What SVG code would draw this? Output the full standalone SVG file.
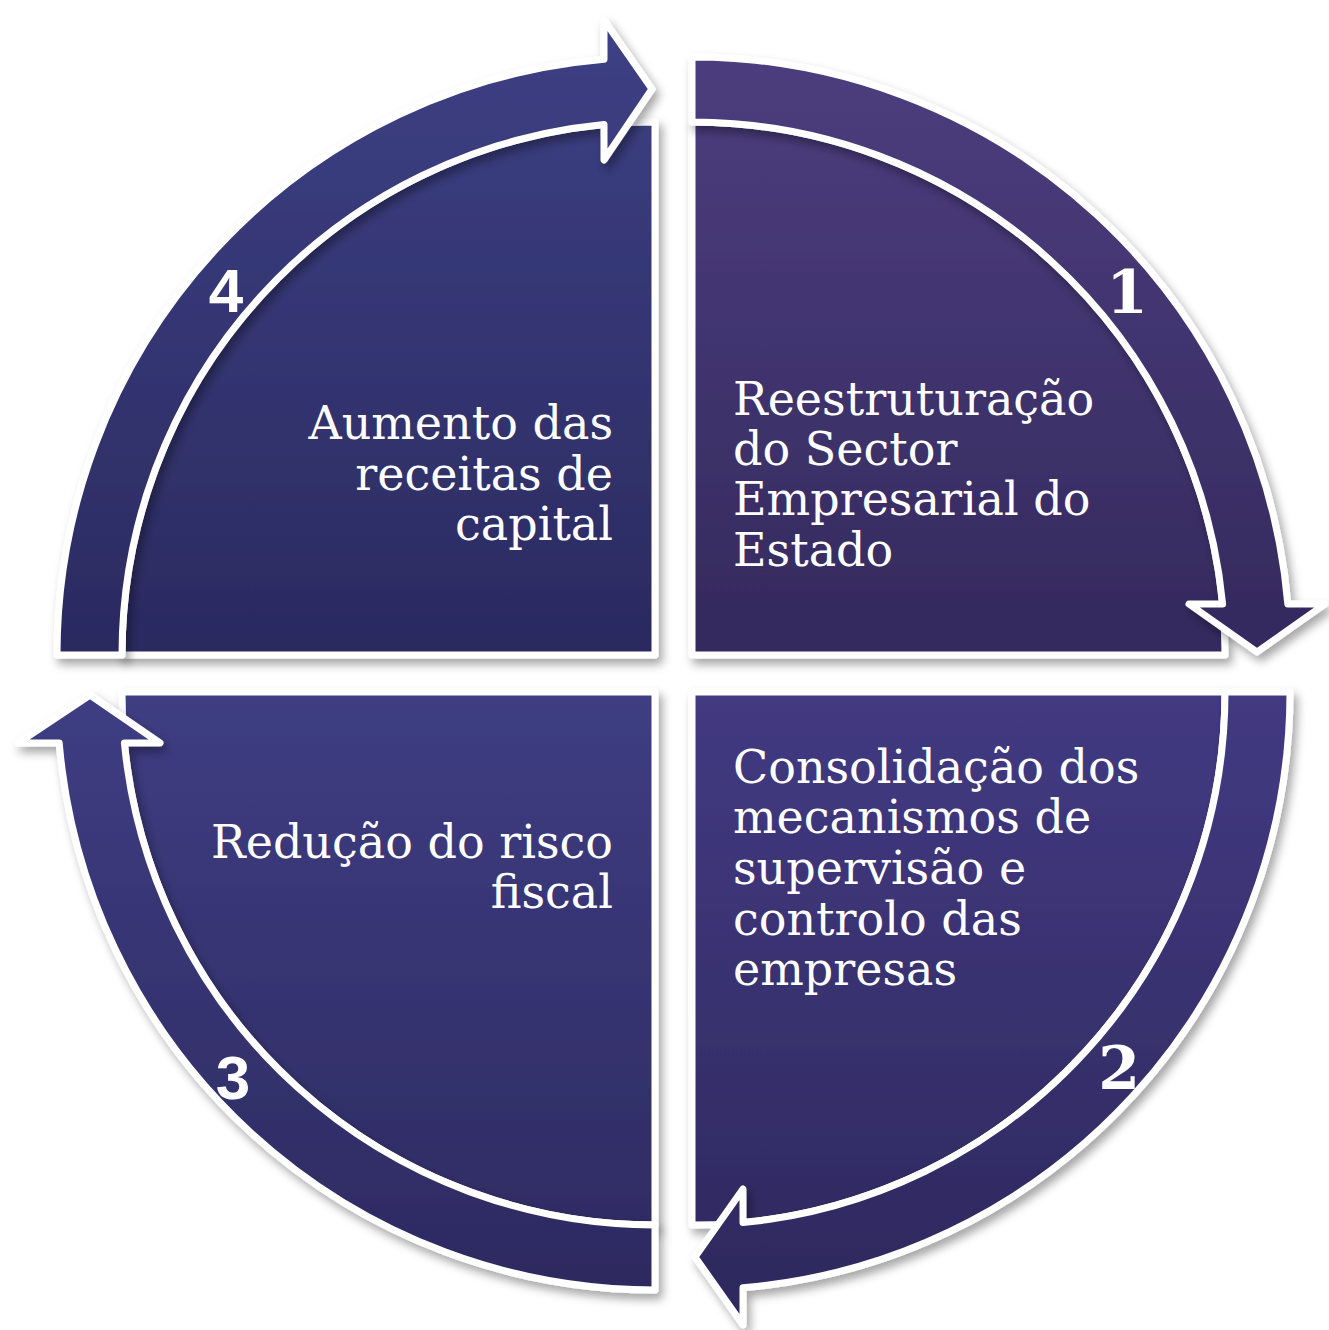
<svg xmlns="http://www.w3.org/2000/svg" width="1329" height="1330" viewBox="0 0 1329 1330">
<defs>
<style>
.shape{stroke:#ffffff;stroke-width:7;stroke-linejoin:round;filter:url(#sh)}
.lbl{font-family:"DejaVu Serif","Liberation Serif",serif;font-size:46px;fill:#ffffff}
.num{font-weight:bold;fill:#ffffff;text-anchor:middle}
.ns{font-family:"DejaVu Serif","Liberation Serif",serif;font-size:60px}
.nn{font-family:"Liberation Sans","DejaVu Sans",sans-serif;font-size:62px}
.r{text-anchor:end}
</style>
<filter id="sh" x="-10%" y="-10%" width="125%" height="125%">
<feDropShadow dx="4" dy="6" stdDeviation="5" flood-color="#000000" flood-opacity="0.35"/>
</filter>
<linearGradient id="gTL" gradientUnits="userSpaceOnUse" x1="0" y1="20" x2="0" y2="655">
<stop offset="0" stop-color="#3d4084"/><stop offset="1" stop-color="#2b2a60"/>
</linearGradient>
<linearGradient id="gTR" gradientUnits="userSpaceOnUse" x1="0" y1="60" x2="0" y2="655">
<stop offset="0" stop-color="#4c3d7e"/><stop offset="1" stop-color="#342a5d"/>
</linearGradient>
<linearGradient id="gBR" gradientUnits="userSpaceOnUse" x1="0" y1="692" x2="0" y2="1322">
<stop offset="0" stop-color="#433a82"/><stop offset="1" stop-color="#2d285c"/>
</linearGradient>
<linearGradient id="gBL" gradientUnits="userSpaceOnUse" x1="0" y1="692" x2="0" y2="1287">
<stop offset="0" stop-color="#3f3d83"/><stop offset="1" stop-color="#2d2a60"/>
</linearGradient>
</defs>
<rect width="1329" height="1330" fill="#ffffff"/>

<g id="node1">
<path class="shape" fill="url(#gTR)" d="M692,655 L692,122 A533,533 0 0 1 1225,655 Z"/>
<text class="lbl" x="733" y="415">Reestruturação</text>
<text class="lbl" x="733" y="465">do Sector</text>
<text class="lbl" x="733" y="515">Empresarial do</text>
<text class="lbl" x="733" y="566">Estado</text>
</g>
<g id="node2">
<path class="shape" fill="url(#gBR)" d="M692,692 L1225,692 A533,533 0 0 1 692,1225 Z"/>
<text class="lbl" x="733" y="783">Consolidação dos</text>
<text class="lbl" x="733" y="833">mecanismos de</text>
<text class="lbl" x="733" y="884">supervisão e</text>
<text class="lbl" x="733" y="935">controlo das</text>
<text class="lbl" x="733" y="985">empresas</text>
</g>
<g id="node3">
<path class="shape" fill="url(#gBL)" d="M655,692 L655,1225 A533,533 0 0 1 122,692 Z"/>
<text class="lbl r" x="613" y="858">Redução do risco</text>
<text class="lbl r" x="613" y="908">fiscal</text>
</g>
<g id="node4">
<path class="shape" fill="url(#gTL)" d="M655,655 L122,655 A533,533 0 0 1 655,122 Z"/>
<text class="lbl r" x="613" y="439">Aumento das</text>
<text class="lbl r" x="613" y="490">receitas de</text>
<text class="lbl r" x="613" y="540">capital</text>
</g>

<g id="connectors">
<path class="shape" fill="url(#gTR)" d="M692,57 A598,598 0 0 1 1287.8,604 L1325,604 L1257,652 L1189,604 L1222.6,604 A533,533 0 0 0 692,122 Z"/>
<path class="shape" fill="url(#gBR)" d="M1290,692 A598,598 0 0 1 743,1287.8 L743,1325 L695,1257 L743,1189 L743,1222.6 A533,533 0 0 0 1225,692 Z"/>
<path class="shape" fill="url(#gBL)" d="M655,1290 A598,598 0 0 1 59.2,743 L18,743 L90,695 L160,743 L124.4,743 A533,533 0 0 0 655,1225 Z"/>
<path class="shape" fill="url(#gTL)" d="M57,655 A598,598 0 0 1 604,59.2 L604,20 L652,89 L604,160 L604,124.4 A533,533 0 0 0 122,655 Z"/>
<text class="num ns" x="1127" y="313">1</text>
<text class="num ns" x="1119" y="1089">2</text>
<text class="num nn" x="233" y="1099">3</text>
<text class="num nn" x="226" y="312">4</text>
</g>
</svg>
